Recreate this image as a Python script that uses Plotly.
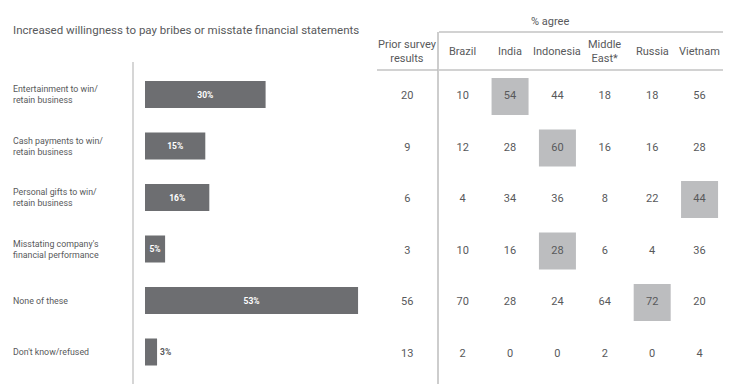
import plotly.graph_objects as go

# ---------------- data ----------------
categories = [
    "Entertainment to win/<br>retain business",
    "Cash payments to win/<br>retain business",
    "Personal gifts to win/<br>retain business",
    "Misstating company's<br>financial performance",
    "None of these",
    "Don't know/refused",
]
overall_pct = [30, 15, 16, 5, 53, 3]

prior_label = "Prior survey<br>results"
prior_results = [20, 9, 6, 3, 56, 13]

countries = ["Brazil", "India", "Indonesia", "Middle<br>East*", "Russia", "Vietnam"]
country_values = {
    "Brazil":          [10, 12, 4, 10, 70, 2],
    "India":           [54, 28, 34, 16, 28, 0],
    "Indonesia":       [44, 60, 36, 28, 24, 0],
    "Middle<br>East*": [18, 16, 8, 6, 64, 2],
    "Russia":          [18, 16, 22, 4, 72, 0],
    "Vietnam":         [56, 28, 44, 36, 20, 4],
}
highlight_country = ["India", "Indonesia", "Vietnam", "Indonesia", "Russia", None]

title_text = "Increased willingness to pay bribes or misstate financial statements"
table_title = "% agree"

# ---------------- styling helpers ----------------
W, H = 742, 384
def fx(p):
    return p / W
def fy(p):
    return 1 - p / H

TEXT = "#58595b"
BAR = "#6d6e71"
HL = "#bcbdbf"
RULE = "#d2d2d2"
FONT = "Roboto"

fig = go.Figure()

# bars
fig.add_trace(go.Bar(
    x=overall_pct, y=categories, orientation="h",
    marker=dict(color=BAR, line=dict(width=0)),
    width=0.52,
    text=[f"{v}%" for v in overall_pct],
    textposition=["inside"] * 5 + ["outside"],
    insidetextanchor="middle",
    constraintext="none",
    insidetextfont=dict(color="white", size=8.5, family=FONT, weight="bold"),
    outsidetextfont=dict(color=TEXT, size=8.5, family=FONT, weight="bold"),
    cliponaxis=False,
    hoverinfo="skip",
    xaxis="x", yaxis="y",
))

# highlighted cells
hx, hy = [], []
for cat, c in zip(categories, highlight_country):
    if c is not None:
        hx.append(c)
        hy.append(cat)
fig.add_trace(go.Scatter(
    x=hx, y=hy, mode="markers",
    marker=dict(symbol="square", size=37, color=HL, line=dict(width=0)),
    hoverinfo="skip", xaxis="x2", yaxis="y2",
))

# table numbers (countries)
tx, ty, tt = [], [], []
for c in countries:
    for cat, v in zip(categories, country_values[c]):
        tx.append(c)
        ty.append(cat)
        tt.append(str(v))
fig.add_trace(go.Scatter(
    x=tx, y=ty, text=tt, mode="text", textposition="middle center",
    textfont=dict(size=11, color=TEXT, family=FONT),
    hoverinfo="skip", xaxis="x2", yaxis="y2", cliponaxis=False,
))

# prior survey column
fig.add_trace(go.Scatter(
    x=[prior_label] * len(categories), y=categories,
    text=[str(v) for v in prior_results], mode="text", textposition="middle center",
    textfont=dict(size=11, color=TEXT, family=FONT),
    hoverinfo="skip", xaxis="x3", yaxis="y2", cliponaxis=False,
))

# empty trace so the "% agree" rule axis is drawn
fig.add_trace(go.Scatter(x=[], y=[], mode="markers", hoverinfo="skip",
                         xaxis="x4", yaxis="y2", showlegend=False))

# ---------------- axes ----------------
hidden = dict(showgrid=False, zeroline=False, showticklabels=False, ticks="")
rule = dict(showline=True, linecolor=RULE, linewidth=2, side="top")
fig.update_layout(
    xaxis=dict(domain=[fx(145), fx(370)], range=[0, 225 / 4.02], anchor="y",
               showline=False, **hidden),
    yaxis=dict(domain=[fy(377.75), fy(68.75)], range=[5.5, -0.5], type="category",
               categoryorder="array", categoryarray=categories, anchor="x",
               showline=False, **hidden),
    xaxis2=dict(domain=[fx(439), fx(723.25)], range=[-0.5, 5.5], type="category",
                categoryorder="array", categoryarray=countries, anchor="y2",
                **rule, **hidden),
    xaxis3=dict(domain=[fx(377), fx(437.5)], range=[-0.5, 0.5], type="category",
                anchor="y2", **rule, **hidden),
    xaxis4=dict(domain=[fx(377), fx(723)], range=[0, 1], anchor="free",
                position=fy(32), overlaying="x2", **rule, **hidden),
    yaxis2=dict(domain=[fy(379.75), fy(70.75)], range=[5.5, -0.5], type="category",
                categoryorder="array", categoryarray=categories, anchor="x2",
                showline=False, **hidden),
)

annotations = []
# title
annotations.append(dict(text=title_text, xref="paper", yref="paper", x=fx(11), y=fy(30),
                        xanchor="left", yanchor="middle", showarrow=False,
                        font=dict(size=11.5, color=TEXT, family=FONT)))
# category labels
for cat in categories:
    annotations.append(dict(text=cat, xref="paper", yref="y", x=fx(11), y=cat,
                            xanchor="left", yanchor="middle", align="left", showarrow=False,
                            font=dict(size=8.8, color=TEXT, family=FONT)))
# table header
annotations.append(dict(text=table_title, xref="paper", yref="paper", x=fx(550), y=fy(22),
                        xanchor="center", yanchor="middle", showarrow=False,
                        font=dict(size=11, color=TEXT, family=FONT)))
for c in countries:
    annotations.append(dict(text=c, xref="x2", yref="paper", x=c, y=fy(51),
                            xanchor="center", yanchor="middle", showarrow=False,
                            font=dict(size=11, color=TEXT, family=FONT)))
annotations.append(dict(text=prior_label, xref="x3", yref="paper", x=prior_label, y=fy(51),
                        xanchor="center", yanchor="middle", showarrow=False,
                        font=dict(size=11, color=TEXT, family=FONT)))

shapes = []
# left divider
shapes.append(dict(type="line", xref="paper", yref="paper", x0=fx(133), x1=fx(133),
                   y0=fy(62), y1=0, line=dict(color="#c8c8c8", width=1.5)))
# table divider
shapes.append(dict(type="line", xref="paper", yref="paper", x0=fx(438), x1=fx(438),
                   y0=fy(32), y1=0, line=dict(color="#bdbdbd", width=1.5)))

fig.update_layout(
    width=W, height=H, margin=dict(l=0, r=0, t=0, b=0),
    paper_bgcolor="white", plot_bgcolor="rgba(0,0,0,0)",
    showlegend=False, annotations=annotations, shapes=shapes,
    font=dict(family=FONT, color=TEXT),
)

fig.write_html("out.html", config={"displayModeBar": False},
               post_script="document.body.style.margin='0px';document.body.style.padding='0px';")
